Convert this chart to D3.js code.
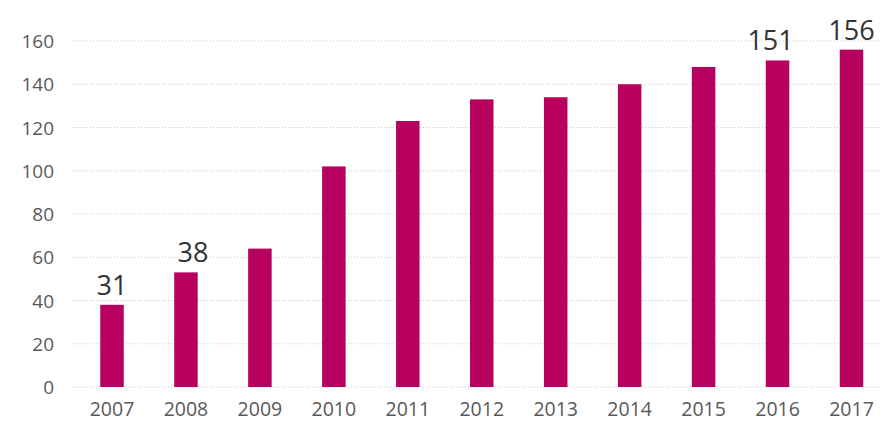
<!DOCTYPE html>
<html><head><meta charset="utf-8">
<script src="https://cdn.jsdelivr.net/npm/d3@7"></script>
<style>html,body{margin:0;padding:0;background:#fff;}svg{display:block;}</style>
</head><body>
<svg id="chart" width="882" height="422"></svg>
<script>
const years = ["2007","2008","2009","2010","2011","2012","2013","2014","2015","2016","2017"];
const values = [38, 53, 64, 102, 123, 133, 134, 140, 148, 151, 156];
const labelYears = ["2007","2008","2016","2017"];
const labelTexts = ["31","38","151","156"];
const yTicks = [0,20,40,60,80,100,120,140,160];

const svg = d3.select("#chart");
const x = d3.scaleBand().domain(years).range([72, 891.5]).paddingInner(0.682).paddingOuter(0.382);
const y = d3.scaleLinear().domain([0,160]).range([387, 41]);

// gridlines
svg.append("g").selectAll("line").data(yTicks).join("line")
  .attr("x1", 72).attr("x2", 882)
  .attr("y1", d => y(d)).attr("y2", d => y(d))
  .attr("stroke", "#c8c8c8").attr("stroke-width", 1)
  .attr("stroke-dasharray", "1,2");

// y axis labels
const yAxis = d3.axisLeft(y).tickValues(yTicks).tickSize(0).tickPadding(0);
const yg = svg.append("g").attr("transform","translate(54,0)").call(yAxis);
yg.select(".domain").remove();
yg.selectAll("text").attr("font-family","'Open Sans', sans-serif").attr("font-size",19).attr("fill","#595959").attr("dy","0.35em");

// x axis labels
const xAxis = d3.axisBottom(x).tickSize(0).tickPadding(0);
const xg = svg.append("g").attr("transform","translate(0,416)").call(xAxis);
xg.select(".domain").remove();
xg.selectAll("text").attr("font-family","'Open Sans', sans-serif").attr("font-size",19.5).attr("fill","#595959").attr("dy","0");

// bars
svg.append("g").selectAll("rect").data(years).join("rect")
  .attr("x", d => x(d)).attr("width", x.bandwidth())
  .attr("y", (d,i) => y(values[i])).attr("height", (d,i) => y(0) - y(values[i]))
  .attr("fill", "#b8005f");

// value labels
svg.append("g").selectAll("text").data(labelYears).join("text")
  .attr("x", d => x(d) + x.bandwidth()/2 + (d==="2008"?7:(d==="2016"?-7:0)))
  .attr("y", d => y(values[years.indexOf(d)]) - 10)
  .attr("text-anchor","middle")
  .attr("font-family","'Open Sans', sans-serif").attr("font-size",27).attr("fill","#333")
  .text((d,i) => labelTexts[i]);
</script>
</body></html>
